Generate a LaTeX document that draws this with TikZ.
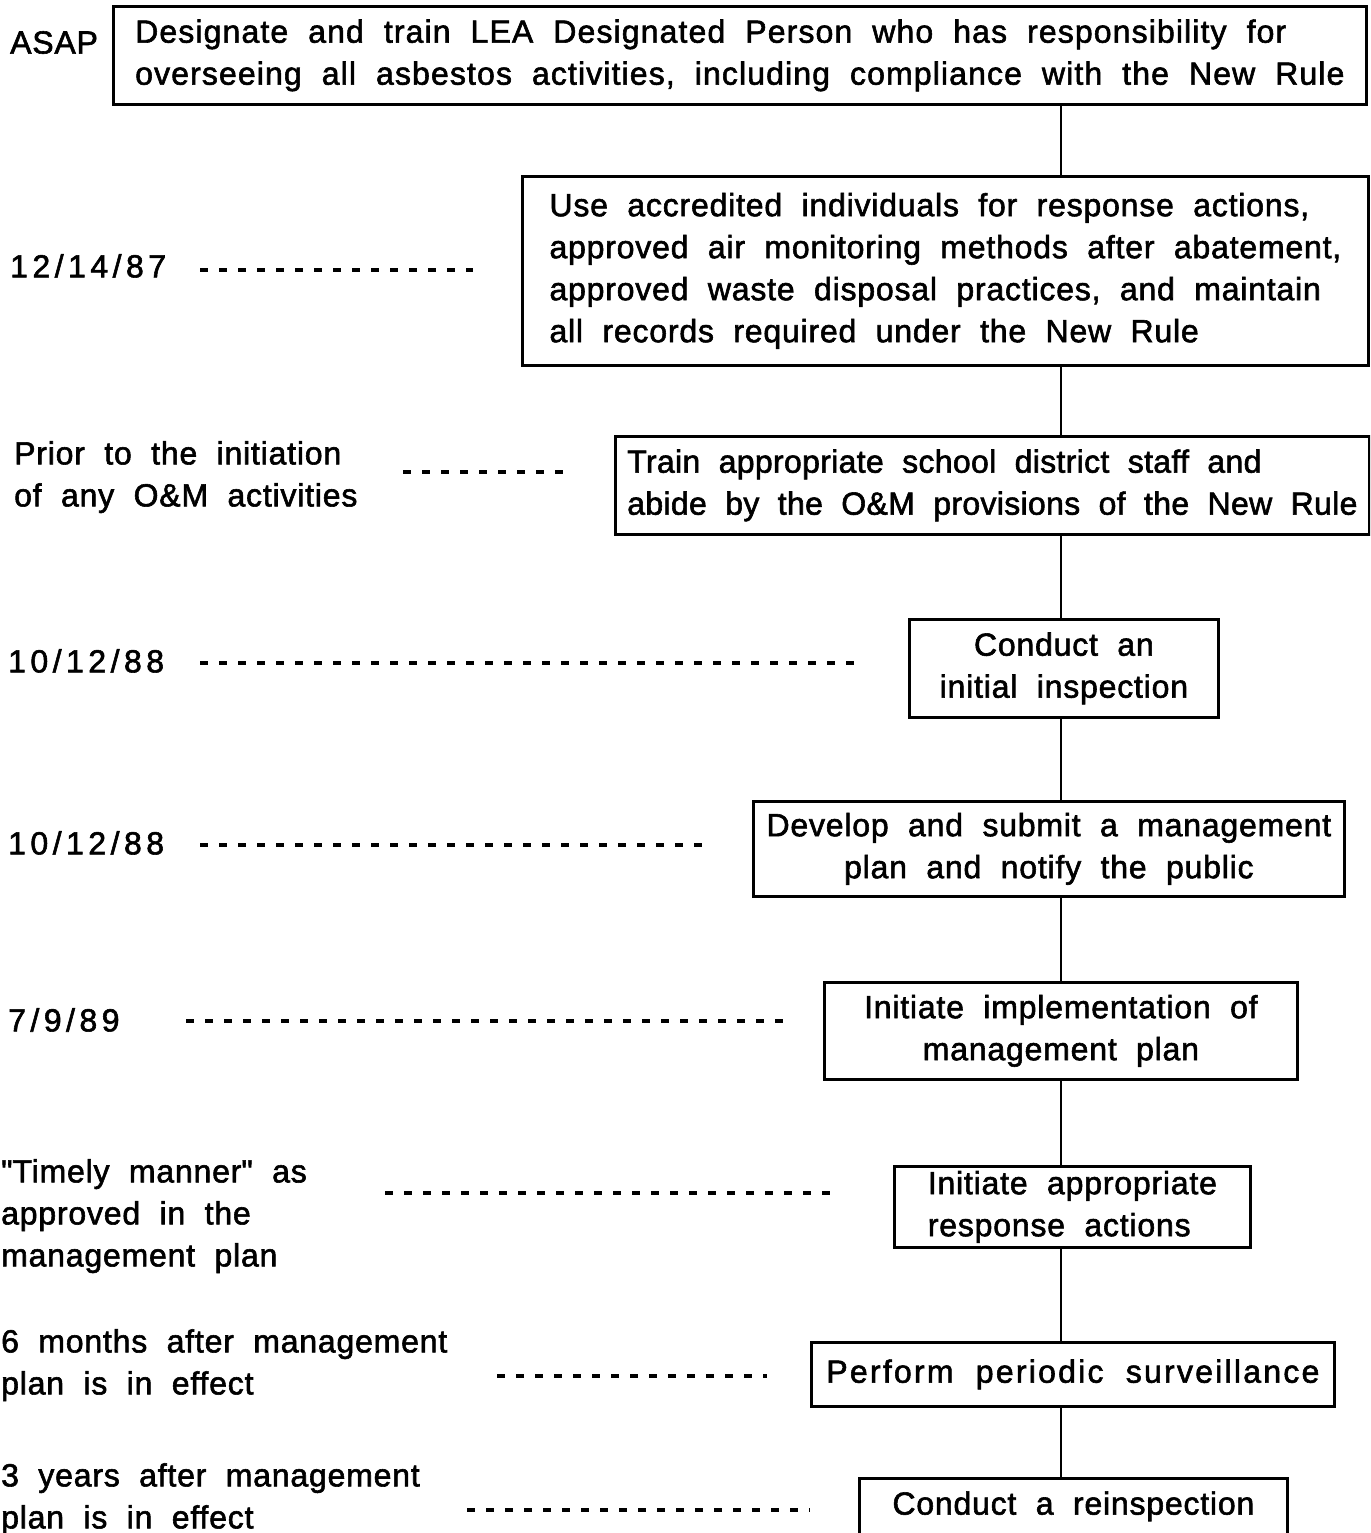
\documentclass[tikz,border=0pt]{standalone}
\usepackage{fontspec}
\setmainfont{Liberation Sans}[LetterSpace=2.5,WordSpace=2,FakeBold=1.8]

\tikzset{
  stepbox/.style={draw, line width=2.8pt, anchor=north west, inner xsep=4pt, inner ysep=0pt},
  when/.style={anchor=north west, align=left, inner sep=0pt},
  date/.style={when, font=\fontsize{32}{42}\selectfont\addfontfeature{LetterSpace=14}},
  leader/.style={line width=4pt, dash pattern=on 8pt off 11pt},
  spine/.style={line width=2.8pt}
}

\begin{document}
\begin{tikzpicture}[x=1pt, y=-1pt, font=\fontsize{32}{42}\selectfont]
        \clip (0,0) rectangle (1370,1533);
        % Steps, top to bottom
        \node [stepbox, align=left, minimum width=1253pt, minimum height=98pt,
                font=\fontsize{32}{42}\selectfont\addfontfeature{LetterSpace=3.5}] (s1) at (112,5)
                {Designate and train LEA Designated Person who has responsibility for\\overseeing all asbestos activities, including compliance with the New Rule};
        \node [stepbox, align=left, minimum width=846pt, minimum height=189pt] (s2) at (521,175)
                {Use accredited individuals for response actions,\\approved air monitoring methods after abatement,\\approved waste disposal practices, and maintain\\all records required under the New Rule};
        \node [stepbox, align=left, minimum width=754pt, minimum height=98pt,
                font=\fontsize{32}{42}\selectfont\addfontfeature{LetterSpace=1}] (s3) at (614,435)
                {Train appropriate school district staff and\\abide by the O\&M provisions of the New Rule};
        \node [stepbox, align=center, minimum width=309pt, minimum height=98pt] (s4) at (908,618)
                {Conduct an\\initial inspection};
        \node [stepbox, align=center, minimum width=591pt, minimum height=95pt] (s5) at (752,800)
                {Develop and submit a management\\plan and notify the public};
        \node [stepbox, align=center, minimum width=473pt, minimum height=97pt] (s6) at (823,981)
                {Initiate implementation of\\management plan};
        \node [stepbox, align=left, minimum width=356pt, minimum height=81pt] (s7) at (893,1165)
                {Initiate appropriate\\response actions};
        \node [stepbox, align=center, minimum width=523pt, minimum height=64pt,
                font=\fontsize{32}{42}\selectfont\addfontfeature{LetterSpace=7}] (s8) at (810,1341)
                {Perform periodic surveillance};
        \node [stepbox, align=center, minimum width=428pt, inner ysep=13pt, text depth=60pt] (s9) at (858,1477)
                {Conduct a reinspection};

        % Deadlines
        \node [when] (w1) at (10,31) {ASAP};
        \node [date] (w2) at (10,254) {12/14/87};
        \node [when] (w3) at (14,441) {Prior to the initiation\\of any O\&M activities};
        \node [date] (w4) at (8,649) {10/12/88};
        \node [date] (w5) at (8,831) {10/12/88};
        \node [date] (w6) at (8,1008) {7/9/89};
        \node [when] (w7) at (1,1159) {\textquotedbl Timely manner\textquotedbl{} as\\approved in the\\management plan};
        \node [when] (w8) at (1,1329) {6 months after management\\plan is in effect};
        \node [when] (w9) at (1,1463) {3 years after management\\plan is in effect};

        % Spine
        \coordinate (axis) at (1061,0);
        \foreach \a/\b in {s1/s2, s2/s3, s3/s4, s4/s5, s5/s6, s6/s7, s7/s8, s8/s9}
                \draw [spine] (\a.south -| axis) -- (\b.north -| axis);

        % Dotted leaders from deadline to step
        \foreach \i/\xa/\gap/\y in {2/200/48/270, 3/403/46/472, 4/200/51/663, 5/200/44/845,
                        6/186/36/1021, 7/385/55/1193, 8/497/43/1376, 9/467/48/1510}
                \draw [leader] (\xa,\y) -- ([xshift=-\gap pt]s\i.west |- 0,\y);
\end{tikzpicture}
\end{document}
